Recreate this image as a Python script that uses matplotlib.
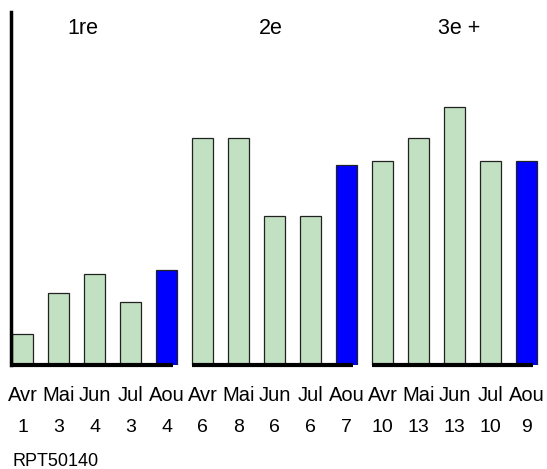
import numpy as np
import matplotlib.pyplot as plt

plt.rcParams['font.family'] = ['Liberation Sans', 'DejaVu Sans']

# Data
groups = ["1re", "2e", "3e +"]
months = ["Avr", "Mai", "Jun", "Jul", "Aou"]
counts = [1, 3, 4, 3, 4, 6, 8, 6, 6, 7, 10, 13, 13, 10, 9]
heights = [3.07, 7.14, 9.0, 6.25, 9.4,
           22.5, 22.5, 14.8, 14.8, 19.8,
           20.2, 22.5, 25.6, 20.2, 20.2]

green = "#c2e0c2"
blue = "#0000ff"

fig = plt.figure(figsize=(5.47, 4.69), dpi=100)
ax = fig.add_axes([11 / 547, 1 - 365 / 469, 536 / 547, 353 / 469])

x = np.arange(len(heights))
colors = [blue if i % 5 == 4 else green for i in x]
ax.bar(x, heights, width=0.6, color=colors, edgecolor="#222222", linewidth=0.9, zorder=2)

# baseline segment under each group
for g in range(len(groups)):
    ax.plot([g * 5 - 0.29, g * 5 + 4.18], [0, 0], color="black", lw=3,
            solid_capstyle="butt", zorder=3, clip_on=False)

# group titles
title_x = [1.67, 6.89, 12.14]
for tx, name in zip(title_x, groups):
    ax.text(tx, 33.4, name, ha="center", va="center", fontsize=15.5)

# month and count labels
trans = ax.get_xaxis_transform()
for i in x:
    ax.text(i, -0.085, months[i % 5], transform=trans, ha="center", va="center", fontsize=14.5)
    ax.text(i, -0.177, str(counts[i]), transform=trans, ha="center", va="center", fontsize=14)

fig.text(12 / 547, 1 - 461 / 469, "RPT50140", ha="left", va="center", fontsize=13)

ax.set_xlim(-0.32, 14.57)
ax.set_ylim(0, 35)
for s in ["top", "right", "bottom"]:
    ax.spines[s].set_visible(False)
ax.spines["left"].set_linewidth(2.5)
ax.set_xticks([])
ax.set_yticks([])

fig.savefig("out.png", dpi=100)
